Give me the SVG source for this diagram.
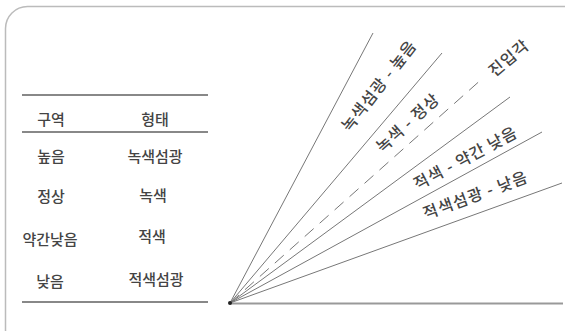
<svg xmlns="http://www.w3.org/2000/svg" width="565" height="331" viewBox="0 0 565 331">
<style>
.t{font-family:"Noto Sans CJK KR","Noto Sans",sans-serif;font-size:15px;font-weight:500;fill:#444;text-anchor:middle;dominant-baseline:central}
.r{font-family:"Noto Sans CJK KR","Noto Sans",sans-serif;font-size:16px;font-weight:500;letter-spacing:1px;fill:#444;text-anchor:middle;dominant-baseline:central}
.rule{stroke:#888;stroke-width:2}
.ray{stroke:#777;stroke-width:1;fill:none}
</style>
<rect x="5.5" y="6.5" width="580" height="345" rx="22" fill="#fff" stroke="#bbb" stroke-width="1.5"/>
<g id="table">
<line class="rule" x1="22" y1="95" x2="208" y2="95"/>
<line class="rule" x1="22" y1="132" x2="208" y2="132"/>
<line class="rule" x1="22" y1="302" x2="208" y2="302"/>
<text class="t" x="51" y="118">구역</text>
<text class="t" x="155" y="118">형태</text>
<text class="t" x="51" y="155">높음</text>
<text class="t" x="155" y="155">녹색섬광</text>
<text class="t" x="51" y="195">정상</text>
<text class="t" x="153" y="194">녹색</text>
<text class="t" x="50" y="238">약간낮음</text>
<text class="t" x="152" y="235">적색</text>
<text class="t" x="50" y="280">낮음</text>
<text class="t" x="156" y="278">적색섬광</text>
</g>
<g id="connectors">
<line x1="230" y1="303.5" x2="563" y2="303.5" stroke="#999" stroke-width="2"/>
<line class="ray" x1="230" y1="303" x2="373" y2="33"/>
<line class="ray" x1="230" y1="303" x2="442" y2="53"/>
<line class="ray" x1="230" y1="303" x2="483" y2="78" stroke="#999" stroke-dasharray="12 8"/>
<line class="ray" x1="230" y1="303" x2="510" y2="97"/>
<line class="ray" x1="230" y1="303" x2="542" y2="132"/>
<line class="ray" x1="230" y1="303" x2="562" y2="183"/>
<circle cx="230" cy="303" r="2" fill="#222"/>
</g>
<g id="labels">
<text class="r" transform="translate(378,85) rotate(-52)">녹색섬광 - 높음</text>
<text class="r" transform="translate(407,122) rotate(-42)">녹색 - 정상</text>
<text class="r" transform="translate(508,57) rotate(-40)">진입각</text>
<text class="r" transform="translate(465,157) rotate(-28)">적색 - 약간 낮음</text>
<text class="r" transform="translate(475,194) rotate(-20)">적색섬광 - 낮음</text>
</g>
</svg>
